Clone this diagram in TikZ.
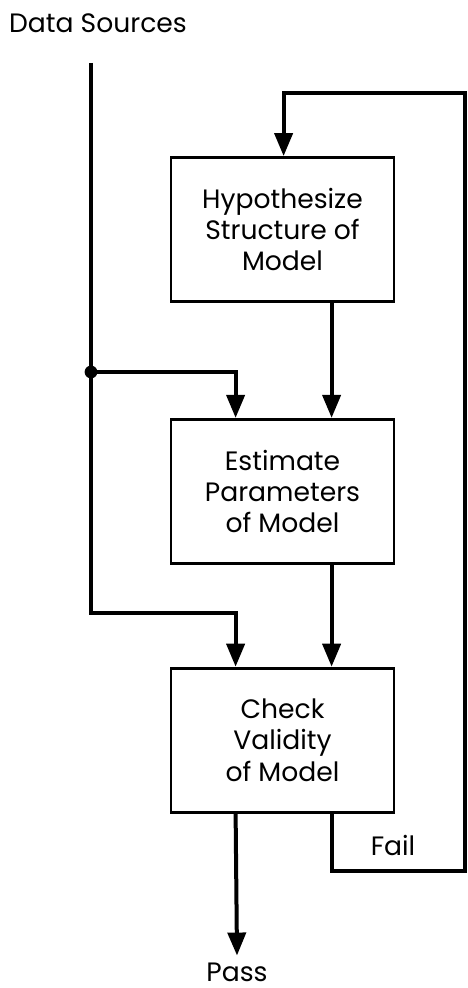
\documentclass[tikz,border=0pt]{standalone}
\usepackage{fontspec}
\setmainfont{Poppins}
\usetikzlibrary{arrows.meta, positioning}

\begin{document}
\begin{tikzpicture}[
  x=0.5pt, y=-0.5pt,
  node distance=57.5pt,
  every node/.style={font=\fontsize{13.3}{15.6}\selectfont},
  box/.style={rectangle, draw, line width=1.4pt, minimum width=111.5pt,
              minimum height=72pt, align=center, inner sep=2pt},
  arr/.style={-{Triangle[width=9pt,length=11.5pt]}, line width=2pt},
  wire/.style={line width=2pt}
]
\useasboundingbox (0,0) rectangle (467,988);

\node (src) at (98,23) {Data Sources};
\node[box] (hyp) at (282.5,229.5) {Hypothesize\\Structure of\\Model};
\node[box, below=of hyp]     (est) {Estimate\\Parameters\\of Model};
\node[box, below=51pt of est] (chk) {Check\\Validity\\of Model};
\node (fail) at (393,845) {Fail};
\node (pass) at (237,972) {Pass};

\coordinate (top)   at (91,63);
\coordinate (split) at (91,372);
\coordinate (bend)  at (91,613);
\coordinate (fbB)   at (465,871);
\coordinate (fbT)   at (465,93);

% data feed
\draw[wire] (top) -- (split);
\fill (split) circle (3.2pt);
\draw[arr] (split) -| ([xshift=33pt]est.north west);
\draw[arr] (split) -- (bend) -| ([xshift=33pt]chk.north west);

% main chain
\draw[arr] ([xshift=81pt]hyp.south west) -- ([xshift=81pt]est.north west);
\draw[arr] ([xshift=81pt]est.south west) -- ([xshift=81pt]chk.north west);
\draw[arr] ([xshift=33pt]chk.south west) -- (pass.north);

% feedback on failure
\draw[arr] ([xshift=81pt]chk.south west) |- (fbB) -- (fbT) -| ([xshift=57pt]hyp.north west);

\end{tikzpicture}
\end{document}
